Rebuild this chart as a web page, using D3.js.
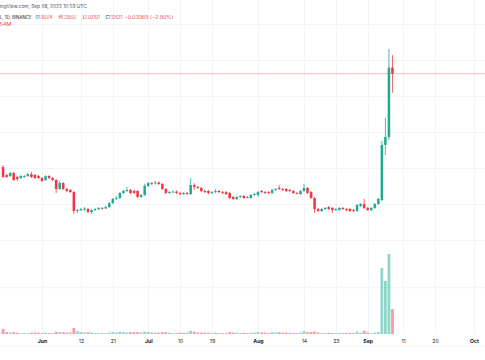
<!DOCTYPE html>
<html><head><meta charset="utf-8">
<script src="https://cdn.jsdelivr.net/npm/d3@7"></script>
<style>html,body{margin:0;padding:0;background:#fff;overflow:hidden}svg{display:block}</style>
</head><body>
<svg id="c" width="485" height="360"></svg>
<script>
// ---- data ----
const startDate = "2023-05-21";
const opens  = [.608,.564,.558,.575,.553,.547,.553,.558,.569,.564,.558,.547,.536,.558,.547,.536,.486,.519,.486,.481,.469,.364,.369,.372,.375,.358,.369,.375,.381,.378,.386,.408,.431,.436,.464,.475,.481,.475,.475,.442,.453,.503,.519,.517,.522,.514,.486,.464,.469,.472,.464,.458,.464,.458,.508,.497,.492,.475,.475,.464,.469,.475,.469,.469,.464,.442,.431,.442,.447,.442,.436,.453,.453,.475,.469,.469,.464,.481,.492,.486,.486,.481,.475,.464,.458,.475,.492,.469,.436,.375,.364,.375,.386,.381,.369,.369,.381,.375,.375,.369,.364,.392,.403,.381,.369,.381,.403,.425,.731,.775,1.16074];
const highs  = [.619,.569,.581,.581,.558,.564,.564,.575,.581,.569,.564,.553,.564,.564,.553,.542,.531,.525,.492,.486,.475,.375,.381,.386,.381,.375,.381,.386,.386,.392,.414,.436,.447,.469,.481,.497,.486,.481,.481,.458,.514,.525,.525,.531,.528,.519,.492,.475,.478,.478,.469,.469,.469,.547,.519,.503,.497,.481,.481,.475,.486,.481,.475,.475,.469,.447,.447,.453,.453,.447,.458,.464,.475,.481,.475,.475,.486,.492,.508,.492,.492,.486,.481,.469,.481,.514,.497,.475,.442,.381,.381,.386,.392,.386,.381,.386,.386,.381,.381,.375,.403,.408,.431,.386,.386,.408,.436,.753,.881,1.264,1.23];
const lows   = [.547,.547,.553,.531,.531,.542,.547,.553,.547,.542,.542,.525,.531,.542,.531,.464,.481,.481,.469,.464,.347,.353,.364,.364,.353,.347,.364,.369,.372,.375,.381,.403,.425,.431,.458,.469,.458,.458,.436,.436,.447,.497,.508,.511,.508,.481,.458,.458,.464,.458,.450,.453,.453,.453,.481,.486,.469,.464,.458,.458,.464,.464,.458,.453,.431,.425,.425,.436,.431,.436,.431,.447,.442,.464,.458,.458,.458,.475,.481,.475,.469,.469,.458,.456,.453,.469,.458,.431,.353,.358,.358,.369,.369,.353,.364,.364,.369,.364,.358,.358,.358,.386,.375,.364,.364,.375,.397,.419,.675,.758,1.02101];
const closes = [.553,.553,.575,.536,.542,.558,.558,.569,.553,.547,.547,.531,.558,.547,.536,.486,.519,.486,.475,.469,.364,.369,.375,.378,.358,.369,.375,.381,.378,.386,.408,.431,.436,.464,.475,.481,.464,.464,.442,.453,.503,.519,.517,.522,.514,.486,.464,.469,.472,.464,.458,.464,.458,.508,.497,.492,.475,.469,.464,.469,.475,.469,.464,.458,.436,.431,.442,.447,.436,.439,.453,.458,.469,.469,.464,.464,.481,.486,.486,.481,.475,.475,.464,.461,.475,.492,.464,.436,.375,.364,.375,.381,.375,.369,.375,.381,.375,.369,.364,.364,.397,.403,.381,.369,.381,.403,.431,.731,.775,1.16074,1.12631];
const volumes = [11,4,3,4,3,2,2,2,3,3,3,2,3,2,2,5,4,4,3,3,13,6,4,3,4,3,2,2,2,2,3,4,3,5,4,3,4,4,4,3,5,4,3,3,3,4,4,3,2,2,3,3,3,7,5,3,3,3,3,2,3,2,2,2,4,3,3,2,3,2,3,3,4,3,3,2,4,3,4,3,3,2,2,2,3,6,4,4,5,3,2,2,3,2,2,2,2,2,2,2,5,3,7,3,2,3,4,143,115,173,54];
const tickDates  = ["2023-06-01","2023-06-12","2023-06-21","2023-07-01","2023-07-10","2023-07-19","2023-08-01","2023-08-14","2023-08-23","2023-09-01","2023-09-11","2023-09-20","2023-10-01"];
const tickLabels = ["Jun","12","21","Jul","10","19","Aug","14","23","Sep","11","20","Oct"];
const monthLabels = ["Jun","Jul","Aug","Sep","Oct"];
const priceGrid = [0.2,0.4,0.6,0.8,1.0,1.2,1.4];
const volGrid = [100];
const headerLine1 = "ingView.com, Sep 08, 2023 10:59 UTC";
const headerSymbol = "L, 1D, BINANCE";
const ohlcLabels = ["O","H","L","C"];
const ohlcValues = ["1.16074","1.23000","1.02101","1.12631"];
const changeText = "\u22120.03369 (\u22122.90%)";
const volText = "54M";

// ---- build ----
const DAY = 864e5;
const t0 = new Date(startDate + "T00:00:00Z").getTime();
const candles = opens.map((o,i)=>({date:new Date(t0+i*DAY),o,h:highs[i],l:lows[i],c:closes[i],v:volumes[i]}));

const W=485,H=360;
const svg=d3.select("#c");
const x=d3.scaleUtc().domain([new Date("2023-06-01T00:00:00Z"),new Date("2023-10-01T00:00:00Z")]).range([42,473.9]);
const y=d3.scaleLinear().domain([0,1.5]).range([276.5,6.5]);
const yv=d3.scaleLinear().domain([0,200]).range([334,241.5]);
const up="#22ab94", dn="#f23645";
const bw=2.55;
const gridCol="#f3f4f8";

// grid
const g=svg.append("g");
g.selectAll("line.v").data(tickDates).join("line")
 .attr("x1",d=>Math.round(x(new Date(d+"T00:00:00Z")))+0.5).attr("x2",d=>Math.round(x(new Date(d+"T00:00:00Z")))+0.5)
 .attr("y1",0).attr("y2",334).attr("stroke",gridCol).attr("stroke-width",1);
g.selectAll("line.h").data(priceGrid).join("line")
 .attr("x1",0).attr("x2",W).attr("y1",d=>y(d)).attr("y2",d=>y(d)).attr("stroke",gridCol);
g.selectAll("line.hv").data(volGrid).join("line")
 .attr("x1",0).attr("x2",W).attr("y1",d=>yv(d)).attr("y2",d=>yv(d)).attr("stroke",gridCol);

// volume
svg.append("g").selectAll("rect").data(candles).join("rect")
 .attr("x",d=>x(d.date)-1.4).attr("width",2.8)
 .attr("y",d=>yv(d.v)).attr("height",d=>334-yv(d.v))
 .attr("fill",d=>d.c>=d.o?up:dn).attr("fill-opacity",0.5);

// price line
svg.append("line").attr("x1",0).attr("x2",W).attr("y1",y(closes[closes.length-1])).attr("y2",y(closes[closes.length-1]))
 .attr("stroke",dn).attr("stroke-opacity",0.5).attr("stroke-width",0.7);

// candles
const cg=svg.append("g");
cg.selectAll("line").data(candles).join("line")
 .attr("x1",d=>x(d.date)).attr("x2",d=>x(d.date)).attr("y1",d=>y(d.h)).attr("y2",d=>y(d.l))
 .attr("stroke",d=>d.c>=d.o?up:dn).attr("stroke-width",0.8);
cg.selectAll("rect").data(candles).join("rect")
 .attr("x",d=>x(d.date)-bw/2).attr("width",bw)
 .attr("y",d=>y(Math.max(d.o,d.c))).attr("height",d=>Math.max(0.8,Math.abs(y(d.o)-y(d.c))))
 .attr("fill",d=>d.c>=d.o?up:dn);

// time axis
const ax=d3.axisBottom(x).tickValues(tickDates.map(d=>new Date(d+"T00:00:00Z")))
 .tickFormat((d,i)=>tickLabels[i]).tickSize(0).tickPadding(0);
const axg=svg.append("g").attr("transform","translate(0,339.5)").call(ax);
axg.select(".domain").remove();
axg.selectAll("text").attr("font-family","Inter, 'Noto Sans', sans-serif").attr("font-size",5.2)
 .attr("fill","#131722").attr("font-weight",(d,i)=>monthLabels.includes(tickLabels[i])?700:400);
svg.append("line").attr("x1",0).attr("x2",W).attr("y1",346.5).attr("y2",346.5).attr("stroke","#eceef2").attr("stroke-width",0.6);

// header
const ff="Inter, 'Noto Sans', sans-serif";
const fs=4.3;
svg.append("text").attr("x",-0.3).attr("y",7.8).attr("font-family",ff).attr("font-size",fs+0.4)
 .attr("fill","#50535e").attr("textLength",87).attr("lengthAdjust","spacingAndGlyphs").text(headerLine1);
const hl=svg.append("g").attr("font-family",ff).attr("font-size",fs);
hl.append("text").attr("x",-0.3).attr("y",18.8).attr("fill","#131722").attr("textLength",32).attr("lengthAdjust","spacingAndGlyphs").text(headerSymbol);
const lx=[35.6,58.8,82.8,105.4], lw=[16.9,17.2,17,17];
ohlcLabels.forEach((l,i)=>{
  const t=hl.append("text").attr("x",lx[i]).attr("y",18.8).attr("textLength",lw[i]).attr("lengthAdjust","spacingAndGlyphs");
  t.append("tspan").attr("fill","#131722").text(l);
  t.append("tspan").attr("fill",dn).text(ohlcValues[i]);
});
hl.append("text").attr("x",124.4).attr("y",18.8).attr("fill",dn).attr("textLength",49).attr("lengthAdjust","spacingAndGlyphs").text(changeText);
hl.append("text").attr("x",-0.3).attr("y",26.3).attr("fill",dn).attr("textLength",11.5).attr("lengthAdjust","spacingAndGlyphs").text(volText);
</script>
</body></html>
